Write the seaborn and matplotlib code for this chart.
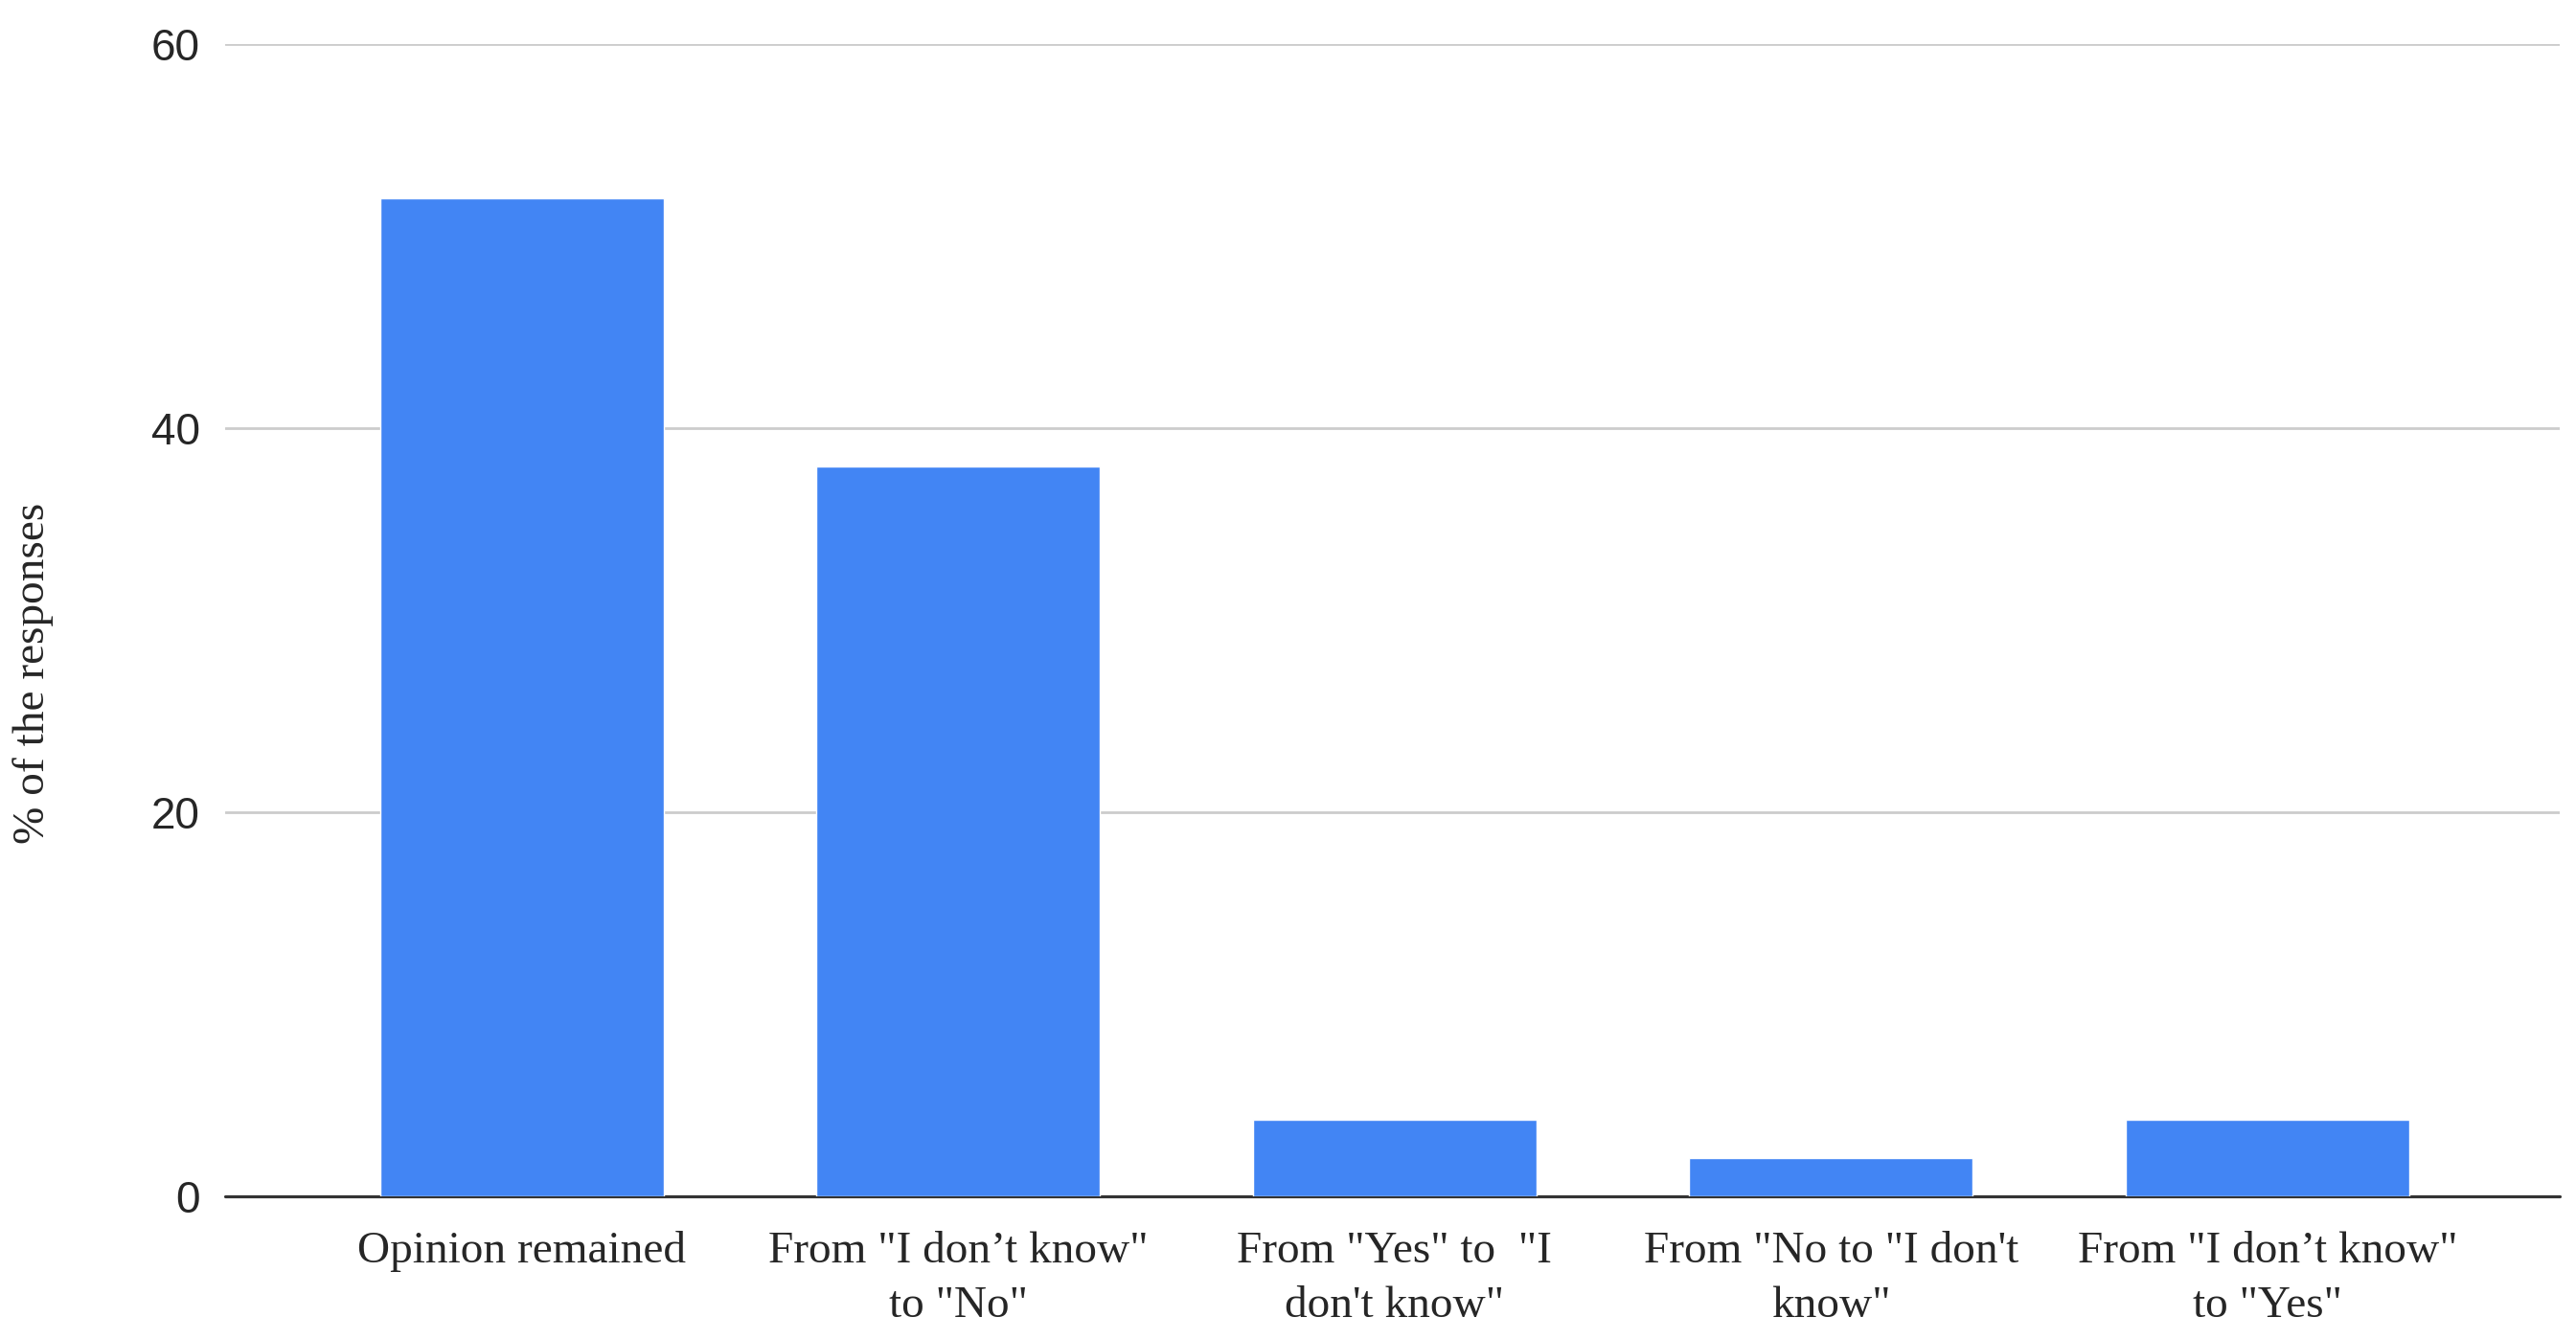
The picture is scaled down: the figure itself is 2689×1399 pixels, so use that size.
import pandas as pd
import seaborn as sns
import matplotlib.pyplot as plt

# 数据：从图上读出来的百分比
categories = ['Opinion remained',
              'From "I don’t know"\nto "No"',
              'From "Yes" to  "I\ndon\'t know"',
              'From "No to "I don\'t\nknow"',
              'From "I don’t know"\nto "Yes"']
percent = [52, 38, 4, 2, 4]
y_ticks = [0, 20, 40, 60]


def plot_chart():
    df = pd.DataFrame({'cat': categories, 'pct': percent})

    sns.set_style('white')
    plt.rcParams['font.family'] = ['Liberation Serif', 'DejaVu Serif']

    fig = plt.figure(figsize=(26.89, 13.99), dpi=100)
    ax = fig.add_axes([0.0874, 0.1072, 0.9063, 0.8598])

    sns.barplot(data=df, x='cat', y='pct', color='#4285F4', width=0.65,
                saturation=1, ax=ax, zorder=3)

    ax.set_xlim(-0.68, 4.67)
    ax.set_ylim(0, 60)
    ax.set_yticks(y_ticks)
    ax.set_yticklabels([str(t) for t in y_ticks], family='Liberation Sans', fontsize=33)
    ax.tick_params(axis='y', length=0, pad=19)
    ax.tick_params(axis='x', length=0, pad=26, labelsize=34)
    for lbl in ax.get_xticklabels():
        lbl.set_linespacing(1.45)

    # 网格线 + 底线
    ax.grid(axis='y', color='#cccccc', linewidth=2, zorder=0)
    ax.grid(axis='x', visible=False)
    for s in ax.spines.values():
        s.set_visible(False)
    ax.axhline(0, color='#333333', linewidth=2.3, zorder=2, clip_on=False)

    ax.set_xlabel('')
    ax.set_ylabel('% of the responses', fontsize=34)
    ax.yaxis.set_label_coords(-0.0735, 0.454)

    plt.savefig('out.png', dpi=100)


if __name__ == '__main__':
    plot_chart()
